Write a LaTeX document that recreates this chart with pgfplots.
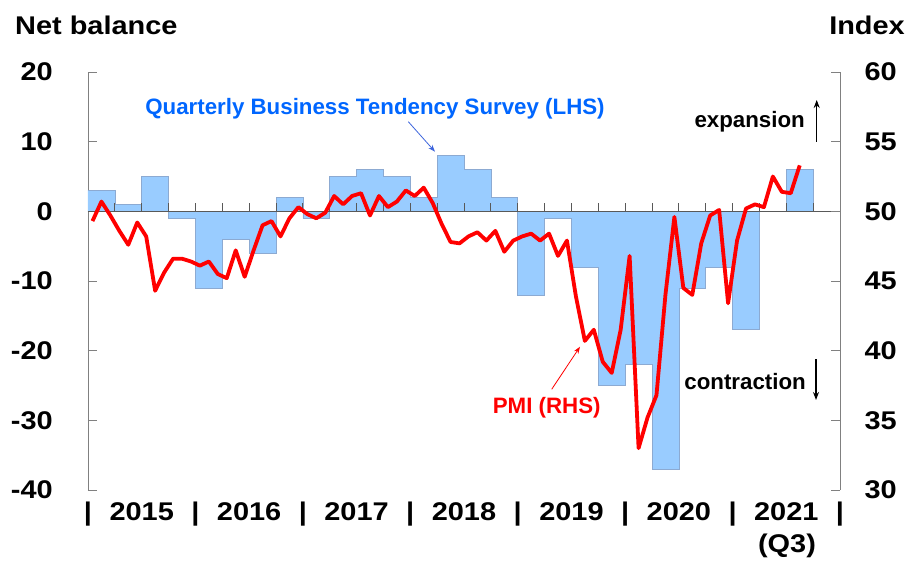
\documentclass[border=0pt]{standalone}
\usepackage{pgfplots}
\pgfplotsset{compat=1.18}
\usepackage{pgfplotstable}
\usetikzlibrary{arrows.meta}
\usepackage{fontspec}
\setmainfont{Liberation Sans}
\newfontfamily\bigfont{Liberation Sans}[FakeStretch=1.13]
\definecolor{barblue}{RGB}{153,204,255}
\definecolor{baredge}{RGB}{140,170,210}
\definecolor{lblue}{RGB}{0,102,255}
\definecolor{arrblue}{RGB}{60,100,220}
\definecolor{zeroline}{RGB}{89,89,89}
\definecolor{axgray}{RGB}{128,128,128}
\newcommand{\bigf}{\bigfont\bfseries\fontsize{25.6}{30}\selectfont}
\newcommand{\smf}{\bfseries\fontsize{22.3}{26}\selectfont}

\pgfplotstableread{
x y
0 3
3 1
6 5
9 -1
12 -11
15 -4
18 -6
21 2
24 -1
27 5
30 6
33 5
36 2
39 8
42 6
45 2
48 -12
51 -1
54 -8
57 -25
60 -22
63 -37
66 -11
69 -8
72 -17
75 0
78 6
81 0
}\bars

\pgfplotstableread{
x y
0.5 49.3
1.5 50.7
2.5 49.7
3.5 48.6
4.5 47.6
5.5 49.2
6.5 48.2
7.5 44.3
8.5 45.6
9.5 46.6
10.5 46.6
11.5 46.4
12.5 46.1
13.5 46.4
14.5 45.5
15.5 45.2
16.5 47.2
17.5 45.3
18.5 47.2
19.5 49.0
20.5 49.3
21.5 48.2
22.5 49.5
23.5 50.3
24.5 49.8
25.5 49.5
26.5 49.9
27.5 51.1
28.5 50.5
29.5 51.1
30.5 51.3
31.5 49.7
32.5 51.1
33.5 50.3
34.5 50.7
35.5 51.5
36.5 51.1
37.5 51.7
38.5 50.6
39.5 49.1
40.5 47.8
41.5 47.7
42.5 48.2
43.5 48.5
44.5 47.9
45.5 48.6
46.5 47.1
47.5 47.9
48.5 48.2
49.5 48.4
50.5 47.9
51.5 48.4
52.5 46.8
53.5 47.9
54.5 43.9
55.5 40.7
56.5 41.5
57.5 39.2
58.5 38.4
59.5 41.5
60.5 46.8
61.5 33.0
62.5 35.2
63.5 36.8
64.5 44.0
65.5 49.6
66.5 44.5
67.5 44.0
68.5 47.7
69.5 49.7
70.5 50.1
71.5 43.4
72.5 47.9
73.5 50.2
74.5 50.5
75.5 50.3
76.5 52.5
77.5 51.4
78.5 51.3
79.5 53.3
}\pmi

\begin{document}
\begin{tikzpicture}[x=1pt,y=1pt]
\path[use as bounding box] (0,0) rectangle (913,561);
\begin{axis}[
  at={(88pt,71pt)}, anchor=south west,
  scale only axis, width=752pt, height=418pt,
  xmin=0, xmax=84, ymin=-40, ymax=20,
  axis y line*=left, axis x line*=bottom,
  x axis line style={draw=none},
  y axis line style={axgray, line width=0.8pt},
  tick align=inside,
  major tick length=9pt,
  ytick={-40,-30,-20,-10,0,10,20},
  yticklabels={-40,-30,-20,-10,0,10,20},
  ytick style={axgray, line width=0.8pt},
  yticklabel style={font=\bigf, anchor=east, inner sep=0pt, xshift=-35pt},
  xtick={6,18,30,42,54,66,78},
  xticklabels={2015,2016,2017,2018,2019,2020,2021},
  extra x ticks={0,12,24,36,48,60,72,84},
  extra x tick labels={|,|,|,|,|,|,|,|},
  xtick style={draw=none},
  extra x tick style={xtick style={draw=none}},
  xticklabel style={font=\bigf, anchor=base, inner sep=0pt, yshift=-31pt},
  clip=false,
]
\addplot[ybar interval, fill=barblue, draw=none] table {\bars};
\addplot[const plot mark left, draw=baredge, line width=0.7pt, mark=none] table {\bars};
\draw[zeroline, line width=1pt] (axis cs:0,0) -- (axis cs:84,0);
\pgfplotsinvokeforeach{3,6,...,81}{\draw[zeroline, line width=0.8pt] (axis cs:#1,0) -- (axis cs:#1,1.15);}
\end{axis}
\begin{axis}[
  at={(88pt,71pt)}, anchor=south west,
  scale only axis, width=752pt, height=418pt,
  xmin=0, xmax=84, ymin=30, ymax=60,
  axis y line*=right, hide x axis,
  y axis line style={axgray, line width=0.8pt},
  tick align=inside,
  major tick length=9pt,
  ytick={30,35,40,45,50,55,60},
  yticklabels={30,35,40,45,50,55,60},
  ytick style={axgray, line width=0.8pt},
  yticklabel style={font=\bigf, anchor=east, inner sep=0pt, xshift=57pt},
  clip=false,
]
\addplot[red, line width=3.8pt, line join=round] table {\pmi};
\end{axis}
\node[anchor=base west, inner sep=0pt, font=\bigf] at (15,526) {Net balance};
\node[anchor=base east, inner sep=0pt, font=\bigf] at (905,526) {Index};
\node[anchor=base, inner sep=0pt, font=\bigf] at (787,8) {(Q3)};
\node[anchor=base, inner sep=0pt, font=\smf, text=lblue] at (375,446) {Quarterly Business Tendency Survey (LHS)};
\draw[arrblue, line width=0.8pt, -{Stealth[length=7pt,width=5pt]}] (408.3,439.3) -- (435,409.3);
\node[anchor=base, inner sep=0pt, font=\smf, text=red] at (546.7,147.7) {PMI (RHS)};
\draw[red, line width=0.8pt, -{Stealth[length=7pt,width=5pt]}] (551.7,171.7) -- (580,214.3);
\node[anchor=base east, inner sep=0pt, font=\smf] at (805,433) {expansion};
\draw[black, line width=1.2pt, -{Stealth[length=8pt,width=6pt]}] (816.7,419.3) -- (816.7,461);
\node[anchor=base east, inner sep=0pt, font=\smf] at (806,171) {contraction};
\draw[black, line width=1.2pt, -{Stealth[length=8pt,width=6pt]}] (816,201.7) -- (816,161);
\end{tikzpicture}
\end{document}
